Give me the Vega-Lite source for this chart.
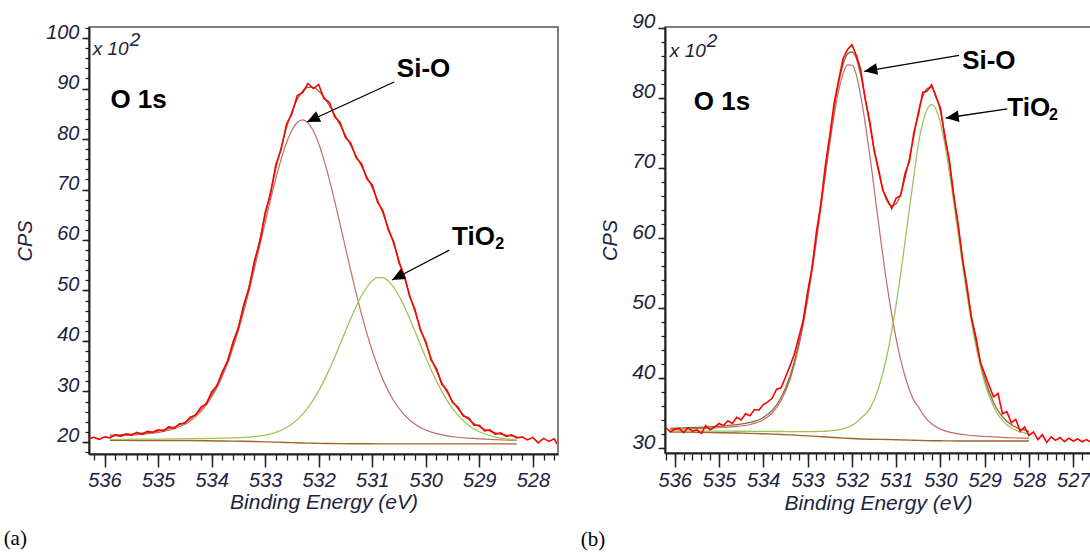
{
  "$schema": "https://vega.github.io/schema/vega-lite/v6.json",
  "background": "white",
  "padding": {"left": 2, "top": 10, "right": 0, "bottom": 0},
  "spacing": 18,
  "config": {
    "font": "Liberation Sans",
    "view": {"stroke": "#555555", "strokeWidth": 1.5},
    "axis": {
      "grid": false,
      "labelFont": "Liberation Sans", "labelFontStyle": "italic", "labelColor": "#1c2340",
      "titleFont": "Liberation Sans", "titleFontStyle": "italic", "titleFontWeight": "normal", "titleColor": "#1c2340",
      "domainColor": "#222222", "domainWidth": 2, "tickColor": "#222222", "tickWidth": 1.5,
      "labelOverlap": false, "labelFlush": false
    }
  },
  "datasets": {
    "a_raw": [
      {"e":536.3,"c":20.6},{"e":536.2,"c":20.9},{"e":536.1,"c":20.5},{"e":536.0,"c":21.0},{"e":535.9,"c":20.8},
      {"e":535.8,"c":21.4},{"e":535.7,"c":21.1},{"e":535.6,"c":21.6},{"e":535.5,"c":21.3},{"e":535.4,"c":21.9},
      {"e":535.3,"c":21.5},{"e":535.2,"c":22.1},{"e":535.1,"c":21.9},{"e":535.0,"c":22.4},{"e":534.9,"c":22.2},
      {"e":534.8,"c":23.0},{"e":534.7,"c":22.7},{"e":534.6,"c":23.6},{"e":534.5,"c":23.7},{"e":534.4,"c":24.9},
      {"e":534.3,"c":25.3},{"e":534.2,"c":26.9},{"e":534.1,"c":27.5},{"e":534.0,"c":29.9},{"e":533.9,"c":31.1},
      {"e":533.8,"c":33.9},{"e":533.7,"c":36.0},{"e":533.6,"c":39.8},{"e":533.5,"c":42.6},{"e":533.4,"c":47.2},
      {"e":533.3,"c":50.5},{"e":533.2,"c":55.9},{"e":533.1,"c":59.6},{"e":533.0,"c":65.4},{"e":532.9,"c":69.1},
      {"e":532.8,"c":74.9},{"e":532.7,"c":78.0},{"e":532.6,"c":83.0},{"e":532.5,"c":85.0},{"e":532.4,"c":88.6},
      {"e":532.3,"c":89.2},{"e":532.2,"c":91.0},{"e":532.1,"c":90.0},{"e":532.0,"c":90.8},{"e":531.9,"c":88.0},
      {"e":531.8,"c":87.3},{"e":531.7,"c":84.4},{"e":531.6,"c":83.3},{"e":531.5,"c":80.3},{"e":531.4,"c":79.2},
      {"e":531.3,"c":76.3},{"e":531.2,"c":75.1},{"e":531.1,"c":72.1},{"e":531.0,"c":70.9},{"e":530.9,"c":67.5},
      {"e":530.8,"c":65.8},{"e":530.7,"c":62.0},{"e":530.6,"c":59.7},{"e":530.5,"c":55.5},{"e":530.4,"c":53.0},
      {"e":530.3,"c":48.8},{"e":530.2,"c":46.2},{"e":530.1,"c":42.1},{"e":530.0,"c":39.9},{"e":529.9,"c":36.2},
      {"e":529.8,"c":34.5},{"e":529.7,"c":31.4},{"e":529.6,"c":30.2},{"e":529.5,"c":27.8},{"e":529.4,"c":26.9},
      {"e":529.3,"c":25.1},{"e":529.2,"c":24.8},{"e":529.1,"c":23.3},{"e":529.0,"c":23.3},{"e":528.9,"c":22.2},
      {"e":528.8,"c":22.4},{"e":528.7,"c":21.5},{"e":528.6,"c":21.8},{"e":528.5,"c":21.1},{"e":528.4,"c":21.4},
      {"e":528.3,"c":20.8},{"e":528.2,"c":21.0},{"e":528.1,"c":20.4},{"e":528.0,"c":20.9},{"e":527.9,"c":19.8},
      {"e":527.8,"c":20.7},{"e":527.7,"c":20.1},{"e":527.6,"c":20.6},{"e":527.55,"c":19.6}
    ],
    "a_fit": [
      {"e":535.9,"bg":20.30,"sio":21.13,"tio":20.49,"env":21.32},
      {"e":535.6,"bg":20.29,"sio":21.28,"tio":20.51,"env":21.50},
      {"e":535.3,"bg":20.28,"sio":21.50,"tio":20.53,"env":21.75},
      {"e":535.0,"bg":20.27,"sio":21.87,"tio":20.55,"env":22.15},
      {"e":534.7,"bg":20.26,"sio":22.61,"tio":20.58,"env":22.93},
      {"e":534.4,"bg":20.24,"sio":24.14,"tio":20.62,"env":24.52},
      {"e":534.1,"bg":20.22,"sio":27.26,"tio":20.67,"env":27.71},
      {"e":533.8,"bg":20.19,"sio":32.95,"tio":20.73,"env":33.49},
      {"e":533.6,"bg":20.16,"sio":38.60,"tio":20.80,"env":39.24},
      {"e":533.4,"bg":20.12,"sio":45.80,"tio":20.89,"env":46.57},
      {"e":533.2,"bg":20.07,"sio":54.30,"tio":21.05,"env":55.28},
      {"e":533.0,"bg":20.01,"sio":63.45,"tio":21.35,"env":64.79},
      {"e":532.8,"bg":19.95,"sio":72.23,"tio":21.90,"env":74.18},
      {"e":532.6,"bg":19.88,"sio":79.30,"tio":22.85,"env":82.27},
      {"e":532.5,"bg":19.85,"sio":81.76,"tio":23.54,"env":85.45},
      {"e":532.4,"bg":19.82,"sio":83.28,"tio":24.41,"env":87.87},
      {"e":532.3,"bg":19.79,"sio":83.79,"tio":25.49,"env":89.49},
      {"e":532.2,"bg":19.76,"sio":83.22,"tio":26.78,"env":90.24},
      {"e":532.1,"bg":19.73,"sio":81.64,"tio":28.32,"env":90.23},
      {"e":532.0,"bg":19.71,"sio":79.13,"tio":30.10,"env":89.52},
      {"e":531.9,"bg":19.69,"sio":75.84,"tio":32.13,"env":88.28},
      {"e":531.8,"bg":19.68,"sio":71.96,"tio":34.37,"env":86.65},
      {"e":531.6,"bg":19.66,"sio":63.10,"tio":39.33,"env":82.77},
      {"e":531.4,"bg":19.64,"sio":53.87,"tio":44.45,"env":78.68},
      {"e":531.2,"bg":19.63,"sio":45.31,"tio":48.95,"env":74.63},
      {"e":531.0,"bg":19.62,"sio":38.06,"tio":51.90,"env":70.34},
      {"e":530.9,"bg":19.61,"sio":35.01,"tio":52.54,"env":67.94},
      {"e":530.8,"bg":19.61,"sio":32.37,"tio":52.54,"env":65.30},
      {"e":530.7,"bg":19.61,"sio":30.11,"tio":51.89,"env":62.39},
      {"e":530.6,"bg":19.60,"sio":28.21,"tio":50.65,"env":59.26},
      {"e":530.4,"bg":19.60,"sio":25.36,"tio":46.80,"env":52.56},
      {"e":530.2,"bg":19.60,"sio":23.50,"tio":41.86,"env":45.76},
      {"e":530.0,"bg":19.60,"sio":22.35,"tio":36.72,"env":39.47},
      {"e":529.8,"bg":19.60,"sio":21.63,"tio":32.04,"env":34.07},
      {"e":529.6,"bg":19.60,"sio":21.20,"tio":28.19,"env":29.79},
      {"e":529.4,"bg":19.60,"sio":20.92,"tio":25.30,"env":26.62},
      {"e":529.2,"bg":19.60,"sio":20.73,"tio":23.29,"env":24.42},
      {"e":529.0,"bg":19.60,"sio":20.59,"tio":22.00,"env":22.99},
      {"e":528.7,"bg":19.60,"sio":20.43,"tio":20.94,"env":21.77},
      {"e":528.3,"bg":19.60,"sio":20.28,"tio":20.37,"env":21.05}
    ],
    "b_raw": [
      {"e":536.2,"c":32.9},{"e":536.1,"c":32.3},{"e":536.0,"c":32.7},{"e":535.9,"c":32.8},{"e":535.8,"c":32.2},
      {"e":535.7,"c":32.9},{"e":535.6,"c":32.4},{"e":535.5,"c":32.6},{"e":535.4,"c":32.1},{"e":535.3,"c":33.2},
      {"e":535.2,"c":32.6},{"e":535.1,"c":33.0},{"e":535.0,"c":33.5},{"e":534.9,"c":33.2},{"e":534.8,"c":33.9},
      {"e":534.7,"c":33.5},{"e":534.6,"c":34.4},{"e":534.5,"c":34.0},{"e":534.4,"c":34.9},{"e":534.3,"c":34.6},
      {"e":534.2,"c":35.5},{"e":534.1,"c":35.4},{"e":534.0,"c":36.2},{"e":533.9,"c":36.6},{"e":533.8,"c":37.1},
      {"e":533.7,"c":38.4},{"e":533.6,"c":38.6},{"e":533.5,"c":40.1},{"e":533.4,"c":41.7},{"e":533.3,"c":43.4},
      {"e":533.2,"c":45.8},{"e":533.1,"c":48.2},{"e":533.0,"c":52.3},{"e":532.9,"c":55.7},{"e":532.8,"c":60.9},
      {"e":532.7,"c":64.8},{"e":532.6,"c":70.3},{"e":532.5,"c":74.6},{"e":532.4,"c":79.3},{"e":532.3,"c":82.5},
      {"e":532.2,"c":85.6},{"e":532.1,"c":86.9},{"e":532.0,"c":87.6},{"e":531.9,"c":86.1},{"e":531.8,"c":84.0},
      {"e":531.7,"c":79.9},{"e":531.6,"c":76.8},{"e":531.5,"c":72.6},{"e":531.4,"c":69.9},{"e":531.3,"c":66.8},
      {"e":531.2,"c":65.5},{"e":531.1,"c":64.2},{"e":531.0,"c":65.7},{"e":530.9,"c":66.0},{"e":530.8,"c":69.2},
      {"e":530.7,"c":71.0},{"e":530.6,"c":75.1},{"e":530.5,"c":77.6},{"e":530.4,"c":80.8},{"e":530.3,"c":81.0},
      {"e":530.2,"c":81.9},{"e":530.1,"c":80.1},{"e":530.0,"c":78.6},{"e":529.9,"c":74.3},{"e":529.8,"c":71.2},
      {"e":529.7,"c":66.0},{"e":529.6,"c":62.0},{"e":529.5,"c":56.9},{"e":529.4,"c":53.1},{"e":529.3,"c":48.6},
      {"e":529.2,"c":45.9},{"e":529.1,"c":42.3},{"e":529.0,"c":40.6},{"e":528.9,"c":38.9},{"e":528.8,"c":37.3},
      {"e":528.7,"c":37.8},{"e":528.6,"c":34.9},{"e":528.5,"c":35.2},{"e":528.4,"c":33.6},{"e":528.3,"c":34.1},
      {"e":528.2,"c":32.4},{"e":528.1,"c":33.0},{"e":528.0,"c":31.8},{"e":527.9,"c":32.3},{"e":527.8,"c":31.2},
      {"e":527.7,"c":31.9},{"e":527.6,"c":30.8},{"e":527.5,"c":31.6},{"e":527.4,"c":31.1},{"e":527.3,"c":31.5},
      {"e":527.2,"c":30.9},{"e":527.1,"c":31.4},{"e":527.0,"c":31.0},{"e":526.9,"c":31.3},{"e":526.8,"c":30.9},
      {"e":526.7,"c":31.2},{"e":526.62,"c":30.9}
    ],
    "b_fit": [
      {"e":536.1,"bg":32.30,"sio":32.68,"tio":32.44,"env":32.82},
      {"e":535.8,"bg":32.28,"sio":32.72,"tio":32.44,"env":32.88},
      {"e":535.5,"bg":32.25,"sio":32.76,"tio":32.43,"env":32.94},
      {"e":535.2,"bg":32.22,"sio":32.83,"tio":32.42,"env":33.03},
      {"e":534.9,"bg":32.19,"sio":32.93,"tio":32.41,"env":33.15},
      {"e":534.6,"bg":32.15,"sio":33.08,"tio":32.40,"env":33.33},
      {"e":534.3,"bg":32.10,"sio":33.36,"tio":32.39,"env":33.65},
      {"e":534.0,"bg":32.04,"sio":34.03,"tio":32.38,"env":34.37},
      {"e":533.8,"bg":31.99,"sio":35.00,"tio":32.36,"env":35.37},
      {"e":533.6,"bg":31.94,"sio":36.76,"tio":32.36,"env":37.18},
      {"e":533.4,"bg":31.88,"sio":39.75,"tio":32.35,"env":40.22},
      {"e":533.2,"bg":31.81,"sio":44.46,"tio":32.34,"env":44.99},
      {"e":533.0,"bg":31.74,"sio":51.12,"tio":32.34,"env":51.72},
      {"e":532.8,"bg":31.66,"sio":59.55,"tio":32.36,"env":60.25},
      {"e":532.6,"bg":31.58,"sio":68.88,"tio":32.40,"env":69.70},
      {"e":532.4,"bg":31.50,"sio":77.54,"tio":32.51,"env":78.55},
      {"e":532.3,"bg":31.46,"sio":80.97,"tio":32.60,"env":82.11},
      {"e":532.2,"bg":31.42,"sio":83.43,"tio":32.73,"env":84.74},
      {"e":532.1,"bg":31.39,"sio":84.73,"tio":32.94,"env":86.28},
      {"e":532.0,"bg":31.36,"sio":84.70,"tio":33.23,"env":86.57},
      {"e":531.9,"bg":31.33,"sio":83.34,"tio":33.66,"env":85.67},
      {"e":531.8,"bg":31.30,"sio":80.30,"tio":34.25,"env":83.25},
      {"e":531.6,"bg":31.26,"sio":72.06,"tio":35.56,"env":76.36},
      {"e":531.4,"bg":31.23,"sio":62.23,"tio":38.53,"env":69.53},
      {"e":531.2,"bg":31.21,"sio":53.01,"tio":43.41,"env":65.21},
      {"e":531.1,"bg":31.20,"sio":49.10,"tio":46.70,"env":64.60},
      {"e":531.0,"bg":31.19,"sio":45.59,"tio":50.49,"env":64.89},
      {"e":530.9,"bg":31.17,"sio":42.67,"tio":54.77,"env":66.27},
      {"e":530.8,"bg":31.15,"sio":40.25,"tio":59.45,"env":68.55},
      {"e":530.7,"bg":31.13,"sio":38.33,"tio":64.23,"env":71.43},
      {"e":530.6,"bg":31.11,"sio":36.81,"tio":68.81,"env":74.51},
      {"e":530.5,"bg":31.09,"sio":35.91,"tio":73.39,"env":78.00},
      {"e":530.4,"bg":31.07,"sio":34.85,"tio":76.42,"env":80.20},
      {"e":530.3,"bg":31.06,"sio":34.07,"tio":78.38,"env":81.39},
      {"e":530.2,"bg":31.05,"sio":33.47,"tio":79.05,"env":81.47},
      {"e":530.1,"bg":31.04,"sio":33.03,"tio":78.36,"env":80.35},
      {"e":530.0,"bg":31.03,"sio":32.70,"tio":76.38,"env":78.05},
      {"e":529.9,"bg":31.02,"sio":32.46,"tio":73.32,"env":74.76},
      {"e":529.8,"bg":31.02,"sio":32.28,"tio":69.47,"env":70.73},
      {"e":529.6,"bg":31.01,"sio":32.03,"tio":60.60,"env":61.62},
      {"e":529.4,"bg":31.00,"sio":31.86,"tio":51.84,"env":52.70},
      {"e":529.2,"bg":31.00,"sio":31.74,"tio":44.58,"env":45.32},
      {"e":529.0,"bg":31.00,"sio":31.65,"tio":39.32,"env":39.97},
      {"e":528.8,"bg":31.00,"sio":31.58,"tio":35.92,"env":36.50},
      {"e":528.5,"bg":31.00,"sio":31.49,"tio":33.33,"env":33.82},
      {"e":528.0,"bg":31.00,"sio":31.38,"tio":32.01,"env":32.39}
    ],
    "a_notes": [
      {"e":535.89,"c":87.68,"t":"O 1s","k":"bold"},
      {"e":530.54,"c":93.94,"t":"Si-O","k":"bold"},
      {"e":529.51,"c":60.59,"t":"TiO","k":"bold"},
      {"e":528.70,"c":59.2,"t":"2","k":"sub"},
      {"e":536.22,"c":97.84,"t":"x 10","k":"unit"},
      {"e":535.53,"c":99.62,"t":"2","k":"sup"}
    ],
    "b_notes": [
      {"e":535.57,"c":79.38,"t":"O 1s","k":"bold"},
      {"e":529.51,"c":85.24,"t":"Si-O","k":"bold"},
      {"e":528.49,"c":78.57,"t":"TiO","k":"bold"},
      {"e":527.55,"c":77.61,"t":"2","k":"sub"},
      {"e":536.11,"c":86.71,"t":"x 10","k":"unit"},
      {"e":535.28,"c":88.14,"t":"2","k":"sup"}
    ],
    "a_arrows": [
      {"k":"sio","e":530.59,"c":91.3,"e2":532.22,"c2":83.38},
      {"k":"tio","e":529.56,"c":58.0,"e2":530.63,"c2":52.07}
    ],
    "b_arrows": [
      {"k":"sio","e":529.58,"c":86.1,"e2":531.72,"c2":83.81},
      {"k":"tio","e":528.49,"c":78.43,"e2":529.88,"c2":77.14}
    ]
  },
  "hconcat": [
    {
      "width": 469,
      "height": 427,
      "title": {"text": "(a)", "orient": "bottom", "anchor": "start", "frame": "bounds", "font": "Liberation Serif", "fontSize": 21, "fontWeight": "normal", "fontStyle": "normal", "color": "#000000", "offset": 16, "dx": -12},
      "resolve": {"axis": {"x": "independent", "y": "independent"}},
      "encoding": {
        "x": {"field": "e", "type": "quantitative", "scale": {"domain": [536.29, 527.53], "nice": false, "zero": false}, "axis": null},
        "y": {"field": "c", "type": "quantitative", "scale": {"domain": [17.6, 102.2], "nice": false, "zero": false}, "axis": null}
      },
      "layer": [
        {
          "data": {"name": "a_fit"},
          "mark": {"type": "line", "color": "#a0652a", "strokeWidth": 1.4},
          "encoding": {
            "x": {"field": "e", "type": "quantitative", "scale": {"domain": [536.29, 527.53], "nice": false, "zero": false},
              "axis": {"orient": "bottom", "values": [536.2,536,535.8,535.6,535.4,535.2,535,534.8,534.6,534.4,534.2,534,533.8,533.6,533.4,533.2,533,532.8,532.6,532.4,532.2,532,531.8,531.6,531.4,531.2,531,530.8,530.6,530.4,530.2,530,529.8,529.6,529.4,529.2,529,528.8,528.6,528.4,528.2,528,527.8,527.6], "labels": false, "domain": false, "title": null, "tickSize": 6, "tickWidth": 1.3}},
            "y": {"field": "bg", "type": "quantitative", "scale": {"domain": [17.6, 102.2], "nice": false, "zero": false},
              "axis": {"orient": "left", "values": [18,20,22,24,26,28,30,32,34,36,38,40,42,44,46,48,50,52,54,56,58,60,62,64,66,68,70,72,74,76,78,80,82,84,86,88,90,92,94,96,98,100,102], "labels": false, "domain": false, "title": null, "tickSize": 4, "tickWidth": 1.3}}
          }
        },
        {
          "data": {"name": "a_fit"},
          "mark": {"type": "line", "color": "#c46a6a", "strokeWidth": 1.2, "interpolate": "monotone"},
          "encoding": {"y": {"field": "sio", "type": "quantitative", "scale": {"domain": [17.6, 102.2], "nice": false, "zero": false}, "axis": null}}
        },
        {
          "data": {"name": "a_fit"},
          "mark": {"type": "line", "color": "#9cc45c", "strokeWidth": 1.3, "interpolate": "monotone"},
          "encoding": {"y": {"field": "tio", "type": "quantitative", "scale": {"domain": [17.6, 102.2], "nice": false, "zero": false}, "axis": null}}
        },
        {
          "data": {"name": "a_fit"},
          "mark": {"type": "line", "color": "#8a6a30", "strokeWidth": 1.3, "interpolate": "monotone"},
          "encoding": {"y": {"field": "env", "type": "quantitative", "scale": {"domain": [17.6, 102.2], "nice": false, "zero": false}, "axis": null}}
        },
        {
          "data": {"name": "a_raw"},
          "mark": {"type": "line", "color": "#ff0000", "strokeWidth": 1.6},
          "encoding": {
            "x": {"field": "e", "type": "quantitative", "scale": {"domain": [536.29, 527.53], "nice": false, "zero": false},
              "axis": {"orient": "bottom", "values": [536,535,534,533,532,531,530,529,528], "format": "d", "tickSize": 13, "labelFontSize": 20, "labelPadding": 3, "title": "Binding Energy (eV)", "titleFontSize": 21, "titlePadding": 1}},
            "y": {"field": "c", "type": "quantitative", "scale": {"domain": [17.6, 102.2], "nice": false, "zero": false},
              "axis": {"orient": "left", "values": [20,30,40,50,60,70,80,90,100], "format": "d", "tickSize": 7, "labelFontSize": 20, "labelBaseline": "alphabetic", "labelPadding": 3, "title": "CPS", "titleFontSize": 20, "titlePadding": 10}}
          }
        },
        {
          "data": {"name": "a_arrows"},
          "mark": {"type": "rule", "color": "#000000", "strokeWidth": 1.3},
          "encoding": {"x2": {"field": "e2"}, "y2": {"field": "c2"}}
        },
        {
          "data": {"name": "a_arrows"},
          "transform": [{"filter": "datum.k === 'sio'"}],
          "mark": {"type": "point", "shape": "M0,0L0.9,2L-0.9,2Z", "size": 169, "filled": true, "color": "#000000", "opacity": 1, "angle": 245},
          "encoding": {
            "x": {"field": "e2", "type": "quantitative", "scale": {"domain": [536.29, 527.53], "nice": false, "zero": false}, "axis": null},
            "y": {"field": "c2", "type": "quantitative", "scale": {"domain": [17.6, 102.2], "nice": false, "zero": false}, "axis": null}
          }
        },
        {
          "data": {"name": "a_arrows"},
          "transform": [{"filter": "datum.k === 'tio'"}],
          "mark": {"type": "point", "shape": "M0,0L0.9,2L-0.9,2Z", "size": 169, "filled": true, "color": "#000000", "opacity": 1, "angle": 242},
          "encoding": {
            "x": {"field": "e2", "type": "quantitative", "scale": {"domain": [536.29, 527.53], "nice": false, "zero": false}, "axis": null},
            "y": {"field": "c2", "type": "quantitative", "scale": {"domain": [17.6, 102.2], "nice": false, "zero": false}, "axis": null}
          }
        },
        {
          "data": {"name": "a_notes"},
          "transform": [{"filter": "datum.k === 'bold'"}],
          "mark": {"type": "text", "align": "left", "baseline": "middle", "font": "Liberation Sans", "fontSize": 26, "fontWeight": "bold", "color": "#000000"},
          "encoding": {"text": {"field": "t"}}
        },
        {
          "data": {"name": "a_notes"},
          "transform": [{"filter": "datum.k === 'sub'"}],
          "mark": {"type": "text", "align": "left", "baseline": "middle", "font": "Liberation Sans", "fontSize": 16, "fontWeight": "bold", "color": "#000000"},
          "encoding": {"text": {"field": "t"}}
        },
        {
          "data": {"name": "a_notes"},
          "transform": [{"filter": "datum.k === 'unit' || datum.k === 'sup'"}],
          "mark": {"type": "text", "align": "left", "baseline": "middle", "font": "Liberation Sans", "fontSize": 19, "fontStyle": "italic", "color": "#1c2340"},
          "encoding": {"text": {"field": "t"}}
        }
      ]
    },
    {
      "width": 426,
      "height": 426,
      "title": {"text": "(b)", "orient": "bottom", "anchor": "start", "frame": "bounds", "font": "Liberation Serif", "fontSize": 21, "fontWeight": "normal", "fontStyle": "normal", "color": "#000000", "offset": 16, "dx": -20},
      "resolve": {"axis": {"x": "independent", "y": "independent"}},
      "encoding": {
        "x": {"field": "e", "type": "quantitative", "scale": {"domain": [536.22, 526.6], "nice": false, "zero": false}, "axis": null},
        "y": {"field": "c", "type": "quantitative", "scale": {"domain": [29.29, 90.14], "nice": false, "zero": false}, "axis": null}
      },
      "layer": [
        {
          "data": {"name": "b_fit"},
          "mark": {"type": "line", "color": "#a0652a", "strokeWidth": 1.4},
          "encoding": {
            "x": {"field": "e", "type": "quantitative", "scale": {"domain": [536.22, 526.6], "nice": false, "zero": false},
              "axis": {"orient": "bottom", "values": [536.2,536,535.8,535.6,535.4,535.2,535,534.8,534.6,534.4,534.2,534,533.8,533.6,533.4,533.2,533,532.8,532.6,532.4,532.2,532,531.8,531.6,531.4,531.2,531,530.8,530.6,530.4,530.2,530,529.8,529.6,529.4,529.2,529,528.8,528.6,528.4,528.2,528,527.8,527.6,527.4,527.2,527,526.8], "labels": false, "domain": false, "title": null, "tickSize": 7, "tickWidth": 1.3}},
            "y": {"field": "bg", "type": "quantitative", "scale": {"domain": [29.29, 90.14], "nice": false, "zero": false},
              "axis": {"orient": "left", "values": [30,32,34,36,38,40,42,44,46,48,50,52,54,56,58,60,62,64,66,68,70,72,74,76,78,80,82,84,86,88,90], "labels": false, "domain": false, "title": null, "tickSize": 4, "tickWidth": 1.3}}
          }
        },
        {
          "data": {"name": "b_fit"},
          "mark": {"type": "line", "color": "#c46a6a", "strokeWidth": 1.2, "interpolate": "monotone"},
          "encoding": {"y": {"field": "sio", "type": "quantitative", "scale": {"domain": [29.29, 90.14], "nice": false, "zero": false}, "axis": null}}
        },
        {
          "data": {"name": "b_fit"},
          "mark": {"type": "line", "color": "#9cc45c", "strokeWidth": 1.3, "interpolate": "monotone"},
          "encoding": {"y": {"field": "tio", "type": "quantitative", "scale": {"domain": [29.29, 90.14], "nice": false, "zero": false}, "axis": null}}
        },
        {
          "data": {"name": "b_fit"},
          "mark": {"type": "line", "color": "#8a6a30", "strokeWidth": 1.3, "interpolate": "monotone"},
          "encoding": {"y": {"field": "env", "type": "quantitative", "scale": {"domain": [29.29, 90.14], "nice": false, "zero": false}, "axis": null}}
        },
        {
          "data": {"name": "b_raw"},
          "mark": {"type": "line", "color": "#ff0000", "strokeWidth": 1.6},
          "encoding": {
            "x": {"field": "e", "type": "quantitative", "scale": {"domain": [536.22, 526.6], "nice": false, "zero": false},
              "axis": {"orient": "bottom", "values": [536,535,534,533,532,531,530,529,528,527], "format": "d", "tickSize": 14, "labelFontSize": 20, "labelPadding": 3, "title": "Binding Energy (eV)", "titleFontSize": 21, "titlePadding": 2}},
            "y": {"field": "c", "type": "quantitative", "scale": {"domain": [29.29, 90.14], "nice": false, "zero": false},
              "axis": {"orient": "left", "values": [30,40,50,60,70,80,90], "format": "d", "tickSize": 7, "labelFontSize": 21, "labelBaseline": "alphabetic", "labelPadding": 3, "title": "CPS", "titleFontSize": 20, "titlePadding": 11}}
          }
        },
        {
          "data": {"name": "b_arrows"},
          "mark": {"type": "rule", "color": "#000000", "strokeWidth": 1.3},
          "encoding": {"x2": {"field": "e2"}, "y2": {"field": "c2"}}
        },
        {
          "data": {"name": "b_arrows"},
          "transform": [{"filter": "datum.k === 'sio'"}],
          "mark": {"type": "point", "shape": "M0,0L0.9,2L-0.9,2Z", "size": 169, "filled": true, "color": "#000000", "opacity": 1, "angle": 260},
          "encoding": {
            "x": {"field": "e2", "type": "quantitative", "scale": {"domain": [536.22, 526.6], "nice": false, "zero": false}, "axis": null},
            "y": {"field": "c2", "type": "quantitative", "scale": {"domain": [29.29, 90.14], "nice": false, "zero": false}, "axis": null}
          }
        },
        {
          "data": {"name": "b_arrows"},
          "transform": [{"filter": "datum.k === 'tio'"}],
          "mark": {"type": "point", "shape": "M0,0L0.9,2L-0.9,2Z", "size": 169, "filled": true, "color": "#000000", "opacity": 1, "angle": 262},
          "encoding": {
            "x": {"field": "e2", "type": "quantitative", "scale": {"domain": [536.22, 526.6], "nice": false, "zero": false}, "axis": null},
            "y": {"field": "c2", "type": "quantitative", "scale": {"domain": [29.29, 90.14], "nice": false, "zero": false}, "axis": null}
          }
        },
        {
          "data": {"name": "b_notes"},
          "transform": [{"filter": "datum.k === 'bold'"}],
          "mark": {"type": "text", "align": "left", "baseline": "middle", "font": "Liberation Sans", "fontSize": 26, "fontWeight": "bold", "color": "#000000"},
          "encoding": {"text": {"field": "t"}}
        },
        {
          "data": {"name": "b_notes"},
          "transform": [{"filter": "datum.k === 'sub'"}],
          "mark": {"type": "text", "align": "left", "baseline": "middle", "font": "Liberation Sans", "fontSize": 16, "fontWeight": "bold", "color": "#000000"},
          "encoding": {"text": {"field": "t"}}
        },
        {
          "data": {"name": "b_notes"},
          "transform": [{"filter": "datum.k === 'unit' || datum.k === 'sup'"}],
          "mark": {"type": "text", "align": "left", "baseline": "middle", "font": "Liberation Sans", "fontSize": 19, "fontStyle": "italic", "color": "#1c2340"},
          "encoding": {"text": {"field": "t"}}
        }
      ]
    }
  ]
}
